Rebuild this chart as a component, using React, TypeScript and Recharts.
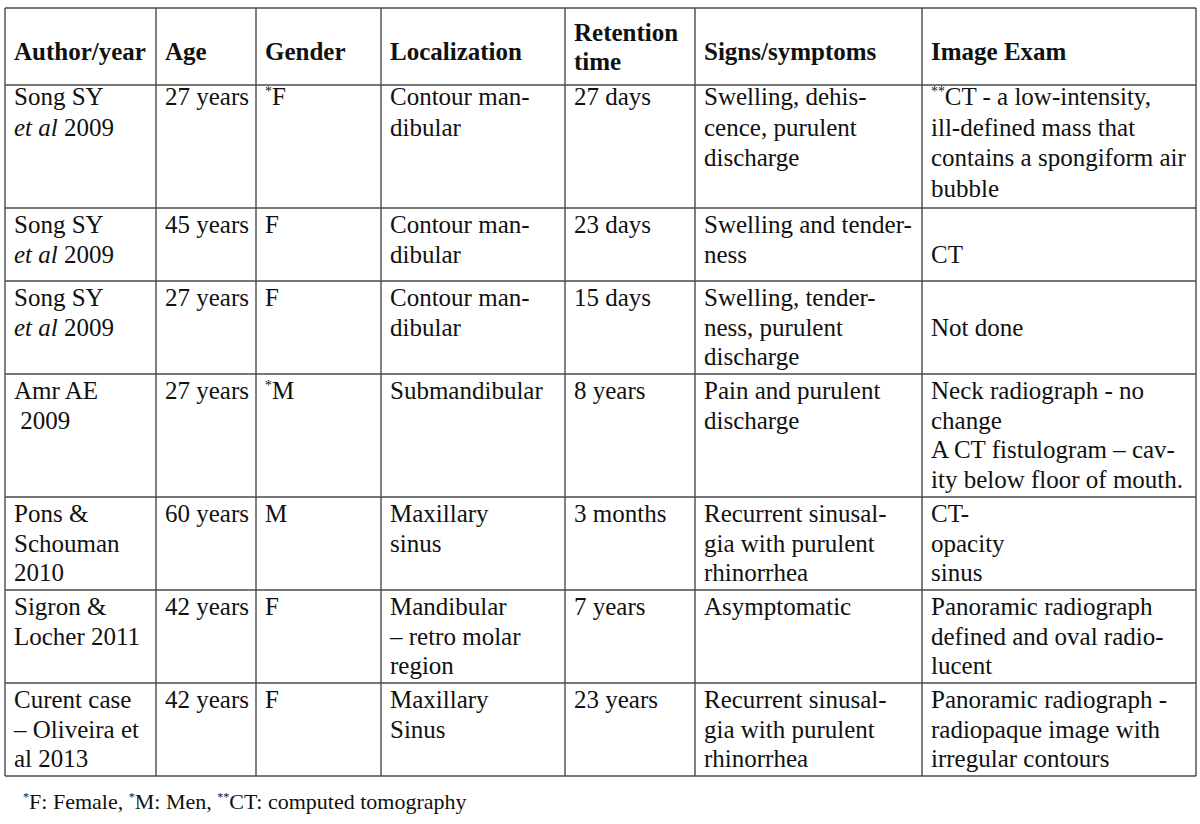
import React from "react";
import { Surface, Layer } from "recharts";

// table content, one array per column, each cell is a list of lines as printed
const headers = [["Author/year"], ["Age"], ["Gender"], ["Localization"], ["Retention", "time"], ["Signs/symptoms"], ["Image Exam"]];

const authors = [
  ["Song SY", "_et al_ 2009"],
  ["Song SY", "_et al_ 2009"],
  ["Song SY", "_et al_ 2009"],
  ["Amr AE", " 2009"],
  ["Pons &", "Schouman", "2010"],
  ["Sigron &", "Locher 2011"],
  ["Curent case", "– Oliveira et", "al 2013"],
];
const ages = [["27 years"], ["45 years"], ["27 years"], ["27 years"], ["60 years"], ["42 years"], ["42 years"]];
const genders = [["{*}F"], ["F"], ["F"], ["{*}M"], ["M"], ["F"], ["F"]];
const localizations = [
  ["Contour man-", "dibular"],
  ["Contour man-", "dibular"],
  ["Contour man-", "dibular"],
  ["Submandibular"],
  ["Maxillary", "sinus"],
  ["Mandibular", "– retro molar", "region"],
  ["Maxillary", "Sinus"],
];
const retentionTimes = [["27 days"], ["23 days"], ["15 days"], ["8 years"], ["3 months"], ["7 years"], ["23 years"]];
const signs = [
  ["Swelling, dehis-", "cence, purulent", "discharge"],
  ["Swelling and tender-", "ness"],
  ["Swelling, tender-", "ness, purulent", "discharge"],
  ["Pain and purulent", "discharge"],
  ["Recurrent sinusal-", "gia with purulent", "rhinorrhea"],
  ["Asymptomatic"],
  ["Recurrent sinusal-", "gia with purulent", "rhinorrhea"],
];
const imageExams = [
  ["{**}CT - a low-intensity,", "ill-defined mass that", "contains a spongiform air", "bubble"],
  ["", "CT"],
  ["", "Not done"],
  ["Neck radiograph - no", "change", "A CT fistulogram – cav-", "ity below floor of mouth."],
  ["CT-", "opacity", "sinus"],
  ["Panoramic radiograph", "defined and oval radio-", "lucent"],
  ["Panoramic radiograph -", "radiopaque image with", "irregular contours"],
];
const footnote = "{*}F: Female, {*}M: Men, {**}CT: computed tomography";

const columns = [authors, ages, genders, localizations, retentionTimes, signs, imageExams];

// layout
const W = 1200;
const H = 824;
const colX = [5, 156, 256, 381, 565, 695, 922, 1196];
const rowY = [8, 85, 208, 281, 374, 497, 590, 683, 776];
const FONT = "'Liberation Serif', 'Times New Roman', serif";
const PAD_X = 9;
const BORDER = "#4a4a4a";

// first baseline offset and line step; the first body row sits tighter under the header
const firstOffset = (r: number) => (r === 0 ? 20 : 25);
const lineStep = (r: number) => (r === 0 ? 30.5 : 29.5);

function Line({ text, x, y, size, bold }: { text: string; x: number; y: number; size: number; bold?: boolean }) {
  const parts = text.split(/(\{\*+\}|_[^_]+_)/).filter((p) => p !== "");
  let shift = 0;
  const spans = parts.map((p, i) => {
    if (p.startsWith("{")) {
      shift = -size * 0.38;
      return (
        <tspan key={i} fontSize={size * 0.55} dy={shift}>
          {p.slice(1, -1)}
        </tspan>
      );
    }
    const dy = shift !== 0 ? -shift : undefined;
    shift = 0;
    const italic = p.startsWith("_");
    return (
      <tspan key={i} dy={dy} fontStyle={italic ? "italic" : undefined}>
        {italic ? p.slice(1, -1) : p}
      </tspan>
    );
  });
  return (
    <text x={x} y={y} fontSize={size} fontFamily={FONT} fontWeight={bold ? 700 : 400} fill="#111" style={{ whiteSpace: "pre" }}>
      {spans}
    </text>
  );
}

export default function App() {
  const top = rowY[0];
  const bottom = rowY[rowY.length - 1];
  return (
    <div style={{ position: "absolute", left: 0, top: 0, width: W, height: H, background: "#fff" }}>
      <Surface width={W} height={H}>
        <rect x={0} y={0} width={W} height={H} fill="#fff" />
        <Layer>
          {headers.map((lines, c) =>
            lines.map((t, k) => (
              <Line
                key={`h${c}-${k}`}
                text={t}
                x={colX[c] + PAD_X}
                y={lines.length === 1 ? 60 : 41 + k * 29}
                size={25}
                bold
              />
            ))
          )}
          {columns.map((col, c) =>
            col.map((lines, r) =>
              lines.map((t, k) => (
                <Line
                  key={`c${c}-${r}-${k}`}
                  text={t}
                  x={colX[c] + PAD_X}
                  y={rowY[r + 1] + firstOffset(r) + k * lineStep(r)}
                  size={25}
                />
              ))
            )
          )}
        </Layer>
        <Layer>
          {rowY.map((y, i) => (
            <line key={`r${i}`} x1={colX[0]} x2={colX[colX.length - 1]} y1={y} y2={y} stroke={BORDER} strokeWidth={1.4} />
          ))}
          {colX.map((x, i) => (
            <line key={`v${i}`} x1={x} x2={x} y1={top} y2={bottom} stroke={BORDER} strokeWidth={1.4} />
          ))}
        </Layer>
        <Line text={footnote} x={23} y={809} size={22} />
      </Surface>
    </div>
  );
}
